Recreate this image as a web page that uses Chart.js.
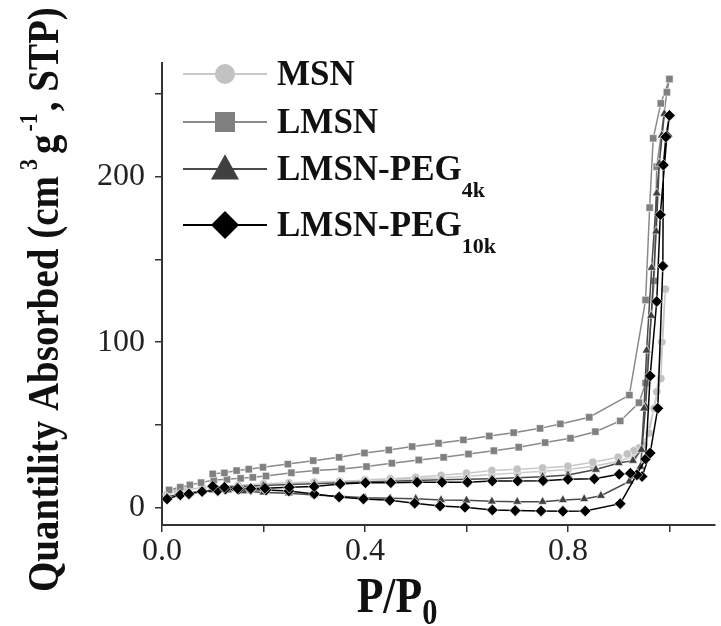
<!DOCTYPE html>
<html>

<head>
    <script src="https://cdn.jsdelivr.net/npm/chart.js@4.4.0/dist/chart.umd.min.js"></script>
    <style>
        body { margin: 0; background: #fff; }
        #wrap { width: 721px; height: 626px; }
    </style>
</head>

<body>
    <div id="wrap"><canvas id="myChart" width="721" height="626"></canvas></div>

    <script>
        // isotherm loops: adsorption branch then desorption branch (P/P0, cm3/g STP)
        var msnX = [0.010, 0.030, 0.050, 0.080, 0.100, 0.150, 0.200, 0.250, 0.300, 0.350, 0.400, 0.450, 0.500, 0.550, 0.600, 0.650, 0.700, 0.750, 0.800, 0.850, 0.900, 0.930, 0.950, 0.970, 0.983, 0.992,
            0.985, 0.975, 0.960, 0.940, 0.930, 0.917, 0.899, 0.849, 0.800, 0.750, 0.700, 0.650, 0.600, 0.550, 0.500, 0.450, 0.400];
        var msnY = [8, 10, 11, 12, 12.5, 13.5, 14.5, 15, 15.5, 16, 16.5, 17, 17.5, 18, 19, 20, 21, 22, 23, 25, 28, 31, 38, 60, 78, 132,
            100, 70, 45, 36, 34.4, 32.4, 30.4, 27.4, 25, 24, 23.2, 22.4, 20.8, 19.5, 18.3, 17.5, 16.8];

        var lmsnX = [0.014, 0.036, 0.055, 0.077, 0.102, 0.128, 0.155, 0.179, 0.205, 0.255, 0.303, 0.354, 0.403, 0.453, 0.506, 0.555, 0.604, 0.654, 0.703, 0.755, 0.805, 0.854, 0.903, 0.940, 0.953, 0.970, 0.975, 0.995, 1.000,
            0.983, 0.968, 0.961, 0.953, 0.921, 0.842, 0.785, 0.745, 0.693, 0.645, 0.594, 0.545, 0.493, 0.447, 0.399, 0.349, 0.298, 0.248, 0.199, 0.171, 0.147, 0.123, 0.100];
        var lmsnY = [10.7, 12.3, 13.7, 15.1, 16.7, 17.1, 17.7, 18.3, 19.1, 21.1, 22.4, 23.4, 24.8, 26.8, 28.8, 30.4, 32.4, 34.4, 36.5, 39.3, 41.9, 45.9, 52.4, 63.4, 75.2, 137, 206, 251, 259,
            244.3, 223.2, 181.3, 125.5, 68, 54.6, 50.6, 47.9, 45.3, 43.3, 40.9, 38.9, 36.9, 34.8, 33.0, 30.4, 28.4, 26.3, 24.4, 23.2, 22.4, 21.0, 20.4];

        var peg4kX = [0.010, 0.035, 0.055, 0.080, 0.100, 0.130, 0.160, 0.200, 0.250, 0.300, 0.350, 0.400, 0.450, 0.500, 0.550, 0.600, 0.650, 0.700, 0.750, 0.790, 0.832, 0.865, 0.921, 0.943, 0.953, 0.964, 0.974, 0.980, 0.990,
            0.985, 0.975, 0.965, 0.955, 0.950, 0.945, 0.928, 0.900, 0.855, 0.800, 0.750, 0.700, 0.650, 0.600, 0.550, 0.500, 0.450, 0.400, 0.350, 0.300, 0.250, 0.200, 0.150, 0.100];
        var peg4kY = [6.5, 8.2, 9.0, 10.0, 10.5, 10.5, 10.0, 9.2, 8.7, 7.7, 6.8, 6.0, 5.6, 5.4, 4.6, 4.4, 3.8, 3.6, 3.6, 4.6, 5.2, 7.2, 15.9, 24.8, 61, 116, 167, 208, 238,
            225, 190, 145, 95, 60, 35, 28.4, 27.0, 23.0, 19.7, 18.7, 18.0, 17.5, 17.2, 16.8, 16.4, 16.0, 15.5, 15.0, 14.5, 14.0, 13.3, 12.8, 12.5];

        var peg10kX = [0.010, 0.036, 0.053, 0.079, 0.110, 0.125, 0.151, 0.175, 0.205, 0.250, 0.300, 0.349, 0.397, 0.449, 0.498, 0.548, 0.597, 0.651, 0.696, 0.747, 0.790, 0.834, 0.903, 0.953, 0.962, 0.975, 0.982, 0.995, 1.000,
            0.993, 0.988, 0.987, 0.977, 0.962, 0.946, 0.936, 0.923, 0.901, 0.852, 0.800, 0.751, 0.701, 0.651, 0.602, 0.552, 0.503, 0.451, 0.401, 0.351, 0.300, 0.251, 0.203, 0.175, 0.149, 0.123, 0.100];
        var peg10kY = [5.2, 7.7, 8.3, 9.7, 10.3, 11.2, 11.1, 11.0, 10.7, 10.1, 8.3, 6.4, 5.2, 4.4, 2.6, 1.0, 0.2, -1.4, -1.8, -2.0, -2.2, -2.0, 2.4, 29.4, 79.6, 124.6, 177, 224.5, 237,
            224, 207, 146, 60, 33, 18.8, 19.8, 20.8, 20.2, 17.4, 17.1, 16.3, 16.1, 16.1, 15.3, 15.3, 15.3, 15.1, 15.0, 14.3, 12.7, 12.3, 11.7, 11.5, 11.5, 12.3, 12.9];

        var seriesNames = ["MSN", "LMSN", "LMSN-PEG", "LMSN-PEG"];
        var seriesSubs = ["", "", "4k", "10k"];
        var xTicks = [0, 0.2, 0.4, 0.6, 0.8, 1.0];
        var xTickLabels = ["0.0", "", "0.4", "", "0.8", ""];
        var yTicks = [0, 50, 100, 150, 200, 250];
        var yTickLabels = ["0", "", "100", "", "200", ""];

        var serif = "'Liberation Serif', 'Times New Roman', serif";
        var styles = [
            { line: "#c8c8c8", fill: "#c2c2c2", shape: "circle", r: 4.2, lr: 10 },
            { line: "#8a8a8a", fill: "#808080", shape: "rect", r: 5.2, lr: 10 },
            { line: "#4a4a4a", fill: "#404040", shape: "triangle", r: 5.2, lr: 14 },
            { line: "#000000", fill: "#000000", shape: "rectRot", r: 5.8, lr: 14 }
        ];

        function pts(xs, ys) {
            var out = [];
            for (let i in xs) out.push({ x: xs[i], y: ys[i] });
            return out;
        }

        function mkSet(i, xs, ys) {
            var s = styles[i];
            return {
                label: seriesNames[i] + seriesSubs[i],
                data: pts(xs, ys),
                showLine: true,
                borderColor: s.line,
                borderWidth: 1.5,
                backgroundColor: s.fill,
                pointStyle: s.shape,
                pointRadius: s.r,
                pointBorderColor: "#ffffff",
                pointBorderWidth: 0.6,
                tension: 0
            };
        }

        // draw a run of text pieces (size, dy, gap) one after another
        function richText(ctx, parts, x, y, align) {
            var total = 0;
            parts.forEach(p => { ctx.font = "bold " + p.size + "px " + serif; total += ctx.measureText(p.t).width + (p.gap || 0); });
            var cx = align === "center" ? x - total / 2 : x;
            parts.forEach(p => {
                ctx.font = "bold " + p.size + "px " + serif;
                ctx.fillText(p.t, cx, y + (p.dy || 0));
                cx += ctx.measureText(p.t).width + (p.gap || 0);
            });
        }

        function marker(ctx, shape, x, y, r) {
            ctx.beginPath();
            if (shape === "circle") ctx.arc(x, y, r, 0, Math.PI * 2);
            else if (shape === "rect") ctx.rect(x - r, y - r, 2 * r, 2 * r);
            else if (shape === "triangle") {
                ctx.moveTo(x, y - r * 1.05);
                ctx.lineTo(x + r * 1.0, y + r * 0.75);
                ctx.lineTo(x - r * 1.0, y + r * 0.75);
                ctx.closePath();
            } else {
                ctx.moveTo(x, y - r); ctx.lineTo(x + r, y); ctx.lineTo(x, y + r); ctx.lineTo(x - r, y); ctx.closePath();
            }
            ctx.fill();
        }

        var textPlugin = {
            id: "textPlugin",
            afterDraw(chart) {
                var ctx = chart.ctx;
                ctx.save();
                ctx.fillStyle = "#111";
                ctx.textBaseline = "alphabetic";

                // y title, starts at the bottom (y = 592) and runs upward
                ctx.save();
                ctx.translate(58, 592);
                ctx.rotate(-Math.PI / 2);
                ctx.scale(1, 1.15);
                richText(ctx, [
                    { t: "Quantility Absorbed (cm", size: 39, gap: 6 },
                    { t: "3", size: 22, dy: -18, gap: 5 },
                    { t: "g", size: 39, gap: 3 },
                    { t: "-1", size: 22, dy: -18, gap: 2 },
                    { t: ", STP)", size: 39 }
                ], 0, 0, "left");
                ctx.restore();

                // x title
                ctx.save();
                ctx.translate(397, 612);
                ctx.scale(0.95, 1.1);
                richText(ctx, [
                    { t: "P/P", size: 46 },
                    { t: "0", size: 32, dy: 11 }
                ], 0, 0, "center");
                ctx.restore();

                // legend
                var rows = [74, 122, 169, 225];
                rows.forEach((ry, i) => {
                    var s = styles[i];
                    ctx.strokeStyle = s.line;
                    ctx.lineWidth = 2;
                    ctx.beginPath();
                    ctx.moveTo(183, ry); ctx.lineTo(267, ry);
                    ctx.stroke();
                    ctx.fillStyle = s.fill;
                    marker(ctx, s.shape, 225, ry, s.lr);
                    ctx.fillStyle = "#111";
                    ctx.textBaseline = "middle";
                    var parts = [{ t: seriesNames[i], size: 35 }];
                    if (seriesSubs[i]) parts.push({ t: seriesSubs[i], size: 22, dy: 20 });
                    richText(ctx, parts, 277, ry + 2, "left");
                });
                ctx.restore();
            }
        };

        new Chart("myChart", {
            type: "scatter",
            data: {
                datasets: [
                    mkSet(3, peg10kX, peg10kY),
                    mkSet(2, peg4kX, peg4kY),
                    mkSet(1, lmsnX, lmsnY),
                    mkSet(0, msnX, msnY)
                ]
            },
            options: {
                responsive: false,
                animation: false,
                layout: { padding: { top: 63, left: 0, right: 0, bottom: 0 } },
                plugins: { legend: { display: false }, tooltip: { enabled: false } },
                scales: {
                    x: {
                        type: "linear",
                        min: 0,
                        max: 1.089,
                        afterBuildTicks: s => { s.ticks = xTicks.map(v => ({ value: v })); },
                        afterFit: s => { s.height = 101; },
                        ticks: {
                            autoSkip: false,
                            maxRotation: 0,
                            padding: 0,
                            color: "#222",
                            font: { family: serif, size: 32 },
                            callback: (v, i) => xTickLabels[i]
                        },
                        grid: { drawOnChartArea: false, drawTicks: true, tickLength: 7, color: "#333", lineWidth: 1.5 },
                        border: { color: "#333", width: 2 }
                    },
                    y: {
                        type: "linear",
                        min: -10.5,
                        max: 268.7,
                        afterBuildTicks: s => { s.ticks = yTicks.map(v => ({ value: v })); },
                        afterFit: s => { s.width = 162; },
                        ticks: {
                            autoSkip: false,
                            padding: 10,
                            color: "#222",
                            font: { family: serif, size: 32 },
                            callback: (v, i) => yTickLabels[i]
                        },
                        grid: { drawOnChartArea: false, drawTicks: true, tickLength: 7, color: "#333", lineWidth: 1.5 },
                        border: { color: "#333", width: 2 }
                    }
                }
            },
            plugins: [textPlugin]
        });
    </script>
</body>

</html>
